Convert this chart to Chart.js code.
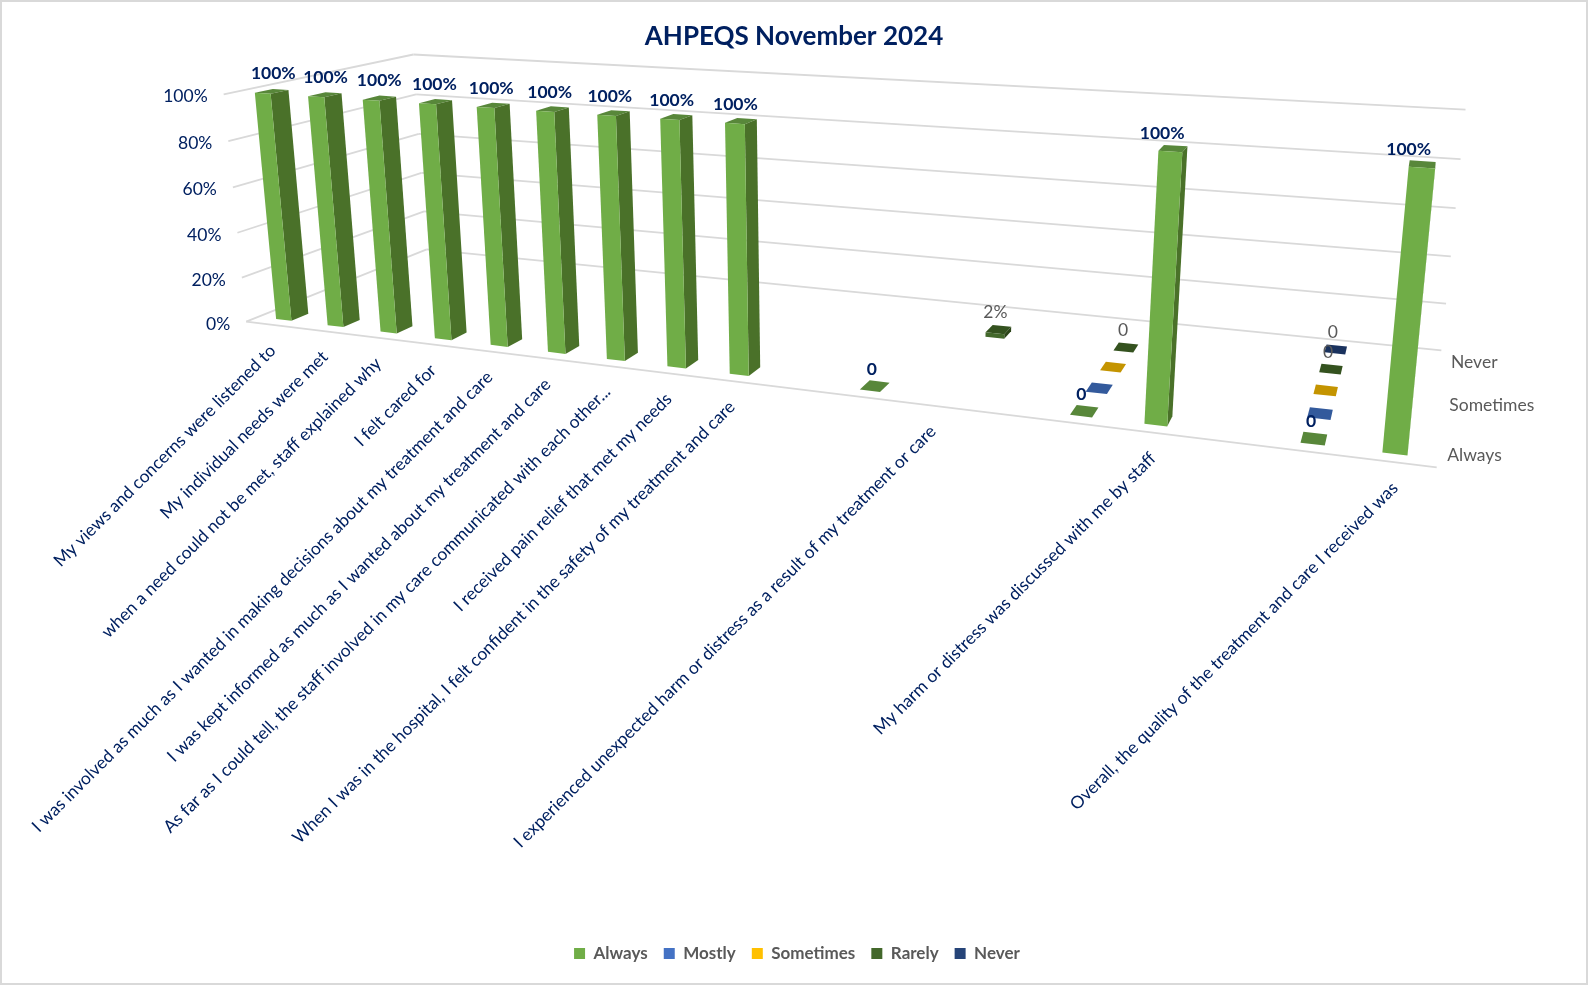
<!DOCTYPE html>
<html>
<head>
<meta charset="utf-8">
<title>AHPEQS November 2024</title>
<script src="https://cdn.jsdelivr.net/npm/chart.js@4"></script>
<style>
html, body { margin: 0; padding: 0; background: #fff; }
canvas { display: block; }
</style>
</head>
<body>
<canvas id="chart" width="1588" height="985"></canvas>
<script>
let categories = [
    "My views and concerns were listened to",
    "My individual needs were met",
    "when a need could not be met, staff explained why",
    "I felt cared for",
    "I was involved as much as I wanted in making decisions about my treatment and care",
    "I was kept informed as much as I wanted about my treatment and care",
    "As far as I could tell, the staff involved in my care communicated with each other...",
    "I received pain relief that met my needs",
    "When I was in the hospital, I felt confident in the safety of my treatment and care",
    "",
    "",
    "I experienced unexpected harm or distress as a result of my treatment or care",
    "",
    "",
    "My harm or distress was discussed with me by staff",
    "",
    "",
    "Overall, the quality of the treatment and care I received was"
];

let always    = [1, 1, 1, 1, 1, 1, 1, 1, 1, null, 0, null, null, 0, 1, null, 0, 1];
let mostly    = [null, null, null, null, null, null, null, null, null, null, null, null, null, 0, null, null, 0, null];
let sometimes = [null, null, null, null, null, null, null, null, null, null, null, null, null, 0, null, null, 0, null];
let rarely    = [null, null, null, null, null, null, null, null, null, null, null, 0.02, null, 0, null, null, 0, null];
let never     = [null, null, null, null, null, null, null, null, null, null, null, null, null, null, null, null, 0, null];

let seriesNames = ["Always", "Mostly", "Sometimes", "Rarely", "Never"];
let seriesValues = [always, mostly, sometimes, rarely, never];
let frontColors = ["#70AD47", "#4472C4", "#FFC000", "#43682B", "#264478"];
let topColors = ["#58873A", "#335A9C", "#C49400", "#34521F", "#1A325E"];
let sideColors = ["#4A7129", "#2D4F8A", "#A87F00", "#2C4519", "#16294D"];
let showValue = [true, false, false, true, true];
let depthTicks = [0, 2, 4];

const NAVY = "#002060";
const GREY = "#595959";
const GRID = "#D9D9D9";
const FONT = "Lato";

// pixels of the 8 corners of the plot box: [across, depth, height] -> [x, y]
const boxCorners = [
    [0, 0, 0, 246, 322],
    [1, 0, 0, 1437, 468],
    [0, 1, 0, 427, 249],
    [1, 1, 0, 1441, 350],
    [0, 0, 1, 224, 95],
    [1, 0, 1, 1466, 173],
    [0, 1, 1, 413, 54],
    [1, 1, 1, 1466, 111]
];

// fit the camera to the corners, least squares
function solveCamera(corners){

    let rows = [];
    corners.forEach(c => {
        let [u, d, h, x, y] = c;
        rows.push([u, d, h, 1, 0, 0, 0, 0, -x * u, -x * d, -x * h, x]);
        rows.push([0, 0, 0, 0, u, d, h, 1, -y * u, -y * d, -y * h, y]);
    });

    let n = 11;
    let m = [];
    for(let i = 0; i < n; i++){
        m.push([]);
        for(let j = 0; j <= n; j++){
            let sum = 0;
            rows.forEach(r => { sum += r[i] * r[j]; });
            m[i].push(sum);
        }
    }

    for(let i = 0; i < n; i++){
        let best = i;
        for(let k = i + 1; k < n; k++){
            if(Math.abs(m[k][i]) > Math.abs(m[best][i])) best = k;
        }
        [m[i], m[best]] = [m[best], m[i]];
        for(let k = 0; k < n; k++){
            if(k === i) continue;
            let f = m[k][i] / m[i][i];
            for(let j = i; j <= n; j++) m[k][j] -= f * m[i][j];
        }
    }

    return m.map((r, i) => r[n] / r[i]);
}

const cam = solveCamera(boxCorners);

function project(u, d, h){
    let w = cam[8] * u + cam[9] * d + cam[10] * h + 1;
    return [
        (cam[0] * u + cam[1] * d + cam[2] * h + cam[3]) / w,
        (cam[4] * u + cam[5] * d + cam[6] * h + cam[7]) / w
    ];
}

function fillFace(ctx, points, color){
    ctx.fillStyle = color;
    ctx.beginPath();
    points.forEach((p, i) => {
        if(i === 0) ctx.moveTo(p[0], p[1]);
        else ctx.lineTo(p[0], p[1]);
    });
    ctx.closePath();
    ctx.fill();
}

function strokeLine(ctx, a, b){
    ctx.beginPath();
    ctx.moveTo(a[0], a[1]);
    ctx.lineTo(b[0], b[1]);
    ctx.stroke();
}

const BAR_WIDTH = 0.30;
const BAR_DEPTH = 0.42;

let plot3d = {
    id: "plot3d",

    // the legend sits a little right of the title in the original
    afterLayout(chart){
        chart.legend.left += 3;
        chart.legend.right += 3;
    },

    beforeDraw(chart){
        let ctx = chart.ctx;
        ctx.save();
        ctx.fillStyle = "#fff";
        ctx.fillRect(0, 0, chart.width, chart.height);
        ctx.strokeStyle = GRID;
        ctx.lineWidth = 2;
        ctx.strokeRect(1, 1, chart.width - 2, chart.height - 2);
        ctx.restore();
    },

    beforeDatasetsDraw(chart){
        let ctx = chart.ctx;
        let xs = chart.scales.x;
        let ys = chart.scales.y;
        let heightOf = v => (ys.bottom - ys.getPixelForValue(v)) / ys.height;
        let slot = 1 / categories.length;
        let row = 1 / seriesNames.length;

        ctx.save();

        // walls
        ctx.strokeStyle = GRID;
        ctx.lineWidth = 1.8;
        ys.ticks.forEach(t => {
            let h = heightOf(t.value);
            strokeLine(ctx, project(0, 0, h), project(0, 1, h));
            strokeLine(ctx, project(0, 1, h), project(1, 1, h));
        });
        strokeLine(ctx, project(0, 0, 0), project(1, 0, 0));

        // bars, back row first
        for(let s = seriesNames.length - 1; s >= 0; s--){
            if(!chart.isDatasetVisible(s)) continue;
            seriesValues[s].forEach((v, i) => {
                if(v === null) return;
                let uc = (xs.getPixelForValue(i) - xs.left) / xs.width;
                let u0 = uc - slot * BAR_WIDTH / 2;
                let u1 = uc + slot * BAR_WIDTH / 2;
                let d0 = row * (s + (1 - BAR_DEPTH) / 2);
                let d1 = d0 + row * BAR_DEPTH;
                let h = heightOf(v);

                fillFace(ctx, [project(u0, d0, h), project(u1, d0, h), project(u1, d1, h), project(u0, d1, h)], topColors[s]);
                if(v > 0){
                    fillFace(ctx, [project(u1, d0, 0), project(u1, d1, 0), project(u1, d1, h), project(u1, d0, h)], sideColors[s]);
                    fillFace(ctx, [project(u0, d0, 0), project(u1, d0, 0), project(u1, d0, h), project(u0, d0, h)], frontColors[s]);
                }
            });
        }

        // value labels
        ctx.textAlign = "center";
        ctx.textBaseline = "middle";
        seriesValues.forEach((values, s) => {
            if(!showValue[s] || !chart.isDatasetVisible(s)) return;
            ctx.font = (s === 0 ? "bold " : "") + "17.5px " + FONT;
            ctx.fillStyle = s === 0 ? NAVY : GREY;
            values.forEach((v, i) => {
                if(v === null) return;
                let uc = (xs.getPixelForValue(i) - xs.left) / xs.width;
                let h = heightOf(v);
                let p = project(uc, row * (s + 0.5), h);
                let dx = (1 - h) * -3 + h * (2 - 16 * uc);
                let dy = h > 0.5 ? -18 + 3 * uc : -17;
                ctx.fillText(v > 0 ? Math.round(v * 100) + "%" : "0", p[0] + dx, p[1] + dy);
            });
        });

        // height axis
        ctx.font = "17.5px " + FONT;
        ctx.fillStyle = NAVY;
        ctx.textAlign = "right";
        ys.ticks.forEach(t => {
            let p = project(0, 0, heightOf(t.value));
            ctx.fillText(t.label, p[0] - 16, p[1] + 2.5);
        });

        // category labels
        ctx.font = "17.4px " + FONT;
        categories.forEach((label, i) => {
            if(label === "") return;
            let uc = (xs.getPixelForValue(i) - xs.left) / xs.width;
            let p = project(uc, 0, 0);
            ctx.save();
            ctx.translate(p[0] + 1, p[1] + 23);
            ctx.rotate(-Math.PI / 4);
            ctx.fillText(label, 0, 0);
            ctx.restore();
        });

        // depth axis
        ctx.font = "17.5px " + FONT;
        ctx.fillStyle = GREY;
        ctx.textAlign = "left";
        depthTicks.forEach(s => {
            let p = project(1, row * (s + 0.5), 0);
            ctx.fillText(seriesNames[s], p[0] + 10, p[1] + 2);
        });

        ctx.restore();
        return false;
    }
};

let chart = new Chart(document.getElementById("chart"), {
    type: "bar",
    plugins: [plot3d],
    data: {
        labels: categories,
        datasets: seriesNames.map((name, s) => ({
            label: name,
            data: seriesValues[s],
            backgroundColor: frontColors[s]
        }))
    },
    options: {
        responsive: false,
        animation: false,
        layout: { padding: { top: 0, bottom: 13, left: 2, right: 2 } },
        plugins: {
            tooltip: { enabled: false },
            title: {
                display: true,
                text: "AHPEQS November 2024",
                color: NAVY,
                font: { family: FONT, size: 26, weight: "bold" },
                padding: { top: 21, bottom: 10 }
            },
            legend: {
                position: "bottom",
                labels: {
                    color: GREY,
                    boxWidth: 11,
                    boxHeight: 11,
                    padding: 16,
                    font: { family: FONT, size: 17, weight: "bold" }
                }
            }
        },
        scales: {
            x: { display: false },
            y: {
                display: false,
                min: 0,
                max: 1,
                ticks: {
                    stepSize: 0.2,
                    callback: v => Math.round(v * 100) + "%"
                }
            }
        }
    }
});
</script>
</body>
</html>
